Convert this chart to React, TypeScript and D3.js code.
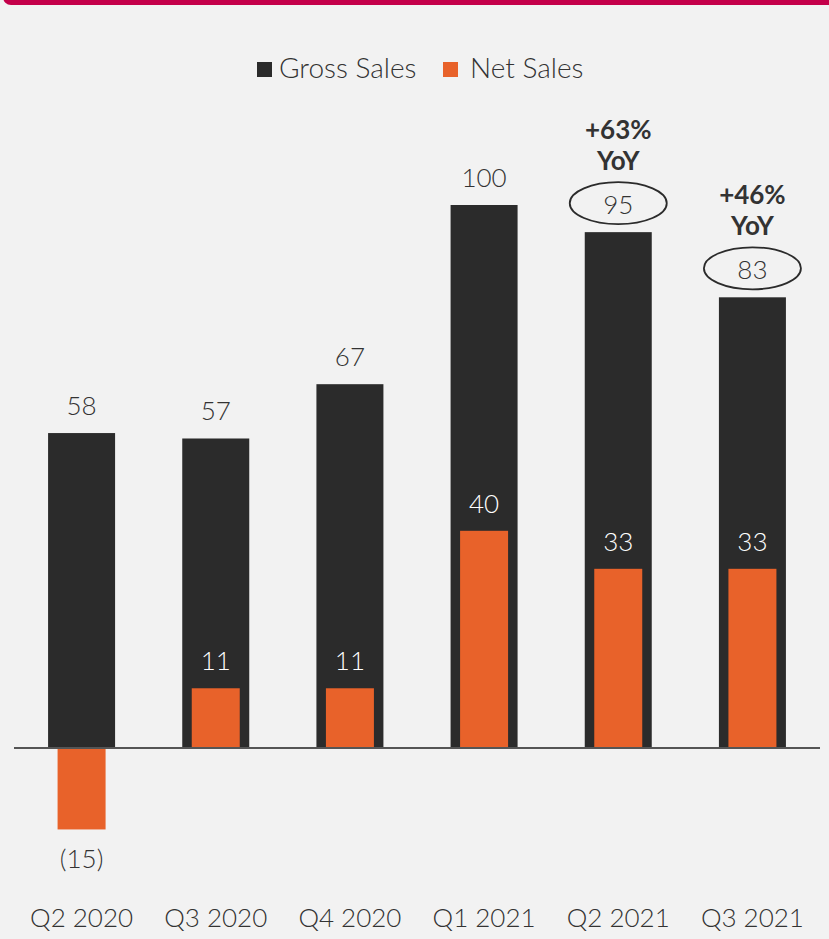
import React from "react";
import * as d3 from "d3";

const categories = ["Q2 2020", "Q3 2020", "Q4 2020", "Q1 2021", "Q2 2021", "Q3 2021"];
const grossSales = [58, 57, 67, 100, 95, 83];
const netSales = [-15, 11, 11, 40, 33, 33];
const yoyNotes = [
  { category: "Q2 2021", text: "+63%" },
  { category: "Q3 2021", text: "+46%" },
];
const circledCategories = ["Q2 2021", "Q3 2021"];

const W = 829;
const H = 939;
const FONT = "Lato, 'Open Sans', sans-serif";
const GROSS = "#2b2b2b";
const NET = "#e8622a";
const TEXT = "#333333";

const fmt = (v: number) => (v < 0 ? `(${Math.abs(v)})` : `${v}`);

export default function App() {
  const x = d3.scaleBand<string>().domain(categories).range([14.5, 819.5]).padding(0);
  const y = d3.scaleLinear().domain([0, 100]).range([748, 205]);
  const cx = (c: string) => (x(c) as number) + x.bandwidth() / 2;
  const grossW = 67;
  const netW = 48;

  return (
    <svg
      width={W}
      height={H}
      style={{ position: "absolute", left: 0, top: 0, background: "#f2f2f2" }}
      fontFamily={FONT}
    >
      <rect x={0} y={0} width={W} height={H} fill="#f2f2f2" />
      <rect x={3} y={-20} width={W + 20} height={25} rx={8} fill="#c4004a" />

      {/* legend */}
      <rect x={257} y={62} width={15} height={15} fill={GROSS} />
      <text x={279} y={78} fontSize={28} fontWeight={300} fill={TEXT}>Gross Sales</text>
      <rect x={443} y={62} width={15} height={15} fill={NET} />
      <text x={470} y={78} fontSize={28} fontWeight={300} fill={TEXT}>Net Sales</text>

      {/* gross bars */}
      {categories.map((c, i) => (
        <rect
          key={"g" + c}
          x={cx(c) - grossW / 2}
          y={y(grossSales[i])}
          width={grossW}
          height={y(0) - y(grossSales[i])}
          fill={GROSS}
        />
      ))}
      {/* net bars */}
      {categories.map((c, i) => {
        const v = netSales[i];
        return (
          <rect
            key={"n" + c}
            x={cx(c) - netW / 2}
            y={Math.min(y(v), y(0))}
            width={netW}
            height={Math.abs(y(v) - y(0))}
            fill={NET}
          />
        );
      })}

      {/* axis line */}
      <line x1={14} x2={820} y1={y(0)} y2={y(0)} stroke="#555" strokeWidth={2} />

      {/* gross labels */}
      {categories.map((c, i) => (
        <text
          key={"gl" + c}
          x={cx(c)}
          y={y(grossSales[i]) - 18}
          textAnchor="middle"
          fontSize={26}
          fontWeight={300}
          fill={TEXT}
        >
          {fmt(grossSales[i])}
        </text>
      ))}
      {/* circles */}
      {circledCategories.map((c) => {
        const i = categories.indexOf(c);
        return (
          <ellipse
            key={"e" + c}
            cx={cx(c)}
            cy={y(grossSales[i]) - 29}
            rx={48.5}
            ry={21}
            fill="none"
            stroke="#2b2b2b"
            strokeWidth={1.8}
          />
        );
      })}
      {/* yoy notes */}
      {yoyNotes.map((n) => {
        const i = categories.indexOf(n.category);
        const top = y(grossSales[i]) - 29 - 21;
        return (
          <g key={"yoy" + n.category}>
            <text x={cx(n.category)} y={top - 43} textAnchor="middle" fontSize={26} fontWeight={700} fill={TEXT}>
              {n.text}
            </text>
            <text x={cx(n.category)} y={top - 12} textAnchor="middle" fontSize={26} fontWeight={700} fill={TEXT}>
              YoY
            </text>
          </g>
        );
      })}
      {/* net labels */}
      {categories.map((c, i) => {
        const v = netSales[i];
        const ly = v < 0 ? y(v) + 39 : y(v) - 18;
        return (
          <text
            key={"nl" + c}
            x={cx(c)}
            y={ly}
            textAnchor="middle"
            fontSize={26}
            fontWeight={300}
            fill={v < 0 ? TEXT : "#ffffff"}
          >
            {fmt(v)}
          </text>
        );
      })}

      {/* category labels */}
      {categories.map((c) => (
        <text key={"c" + c} x={cx(c)} y={927} textAnchor="middle" fontSize={26} fontWeight={300} fill={TEXT}>
          {c}
        </text>
      ))}
    </svg>
  );
}
